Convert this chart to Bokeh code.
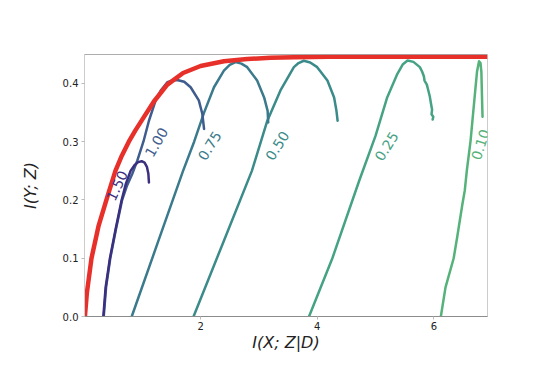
from bokeh.plotting import figure
from bokeh.models import Range1d, FixedTicker, PrintfTickFormatter, Span, ColumnDataSource, LabelSet
from bokeh.embed import file_html
from bokeh.resources import INLINE
from bokeh.core.properties import value

# ---- data ----
red_x = [0.017, 0.05, 0.13, 0.25, 0.40, 0.54, 0.65, 0.77, 0.88, 1.00, 1.20, 1.43, 1.70, 2.00, 2.40, 2.80, 3.20, 3.60, 4.20, 5.00, 6.00, 6.92]
red_y = [0.0, 0.04, 0.10, 0.155, 0.205, 0.25, 0.276, 0.30, 0.319, 0.338, 0.369, 0.398, 0.418, 0.430, 0.438, 0.442, 0.444, 0.445, 0.446, 0.446, 0.446, 0.446]

b150_x = [0.333, 0.372, 0.446, 0.544, 0.647, 0.72, 0.80, 0.87, 0.93, 0.99, 1.04, 1.08, 1.105, 1.115]
b150_y = [0.0, 0.05, 0.10, 0.15, 0.20, 0.228, 0.25, 0.260, 0.265, 0.2665, 0.264, 0.257, 0.245, 0.230]

b100_x = [0.34, 0.38, 0.452, 0.55, 0.655, 0.74, 0.83, 0.915, 1.02, 1.115, 1.23, 1.317, 1.43, 1.52, 1.60, 1.72, 1.83, 1.97, 2.03, 2.06]
b100_y = [0.0, 0.05, 0.10, 0.15, 0.20, 0.225, 0.245, 0.2675, 0.300, 0.336, 0.371, 0.388, 0.402, 0.405, 0.406, 0.403, 0.3935, 0.371, 0.348, 0.322]

b075_x = [0.82, 1.26, 1.70, 1.89, 2.06, 2.23, 2.40, 2.50, 2.60, 2.70, 2.80, 2.97, 3.09, 3.15, 3.16]
b075_y = [0.0, 0.125, 0.25, 0.30, 0.35, 0.3935, 0.422, 0.432, 0.4366, 0.434, 0.428, 0.405, 0.376, 0.353, 0.333]

b050_x = [1.88, 2.38, 2.88, 3.145, 3.37, 3.60, 3.68, 3.77, 3.88, 4.00, 4.175, 4.29, 4.33, 4.35]
b050_y = [0.0, 0.125, 0.25, 0.336, 0.388, 0.428, 0.435, 0.439, 0.436, 0.428, 0.405, 0.376, 0.353, 0.336]

b025_x = [3.86, 4.26, 4.72, 5.00, 5.20, 5.375, 5.47, 5.55, 5.65, 5.76, 5.80, 5.83, 5.84, 5.88, 5.90, 5.93, 5.95, 5.97, 5.96, 5.99, 5.98]
b025_y = [0.0, 0.10, 0.233, 0.31, 0.376, 0.4165, 0.433, 0.4395, 0.437, 0.428, 0.420, 0.412, 0.405, 0.398, 0.390, 0.378, 0.366, 0.355, 0.347, 0.343, 0.338]

b010_x = [6.12, 6.20, 6.34, 6.40, 6.49, 6.53, 6.565, 6.63, 6.67, 6.71, 6.74, 6.775, 6.80, 6.815, 6.82, 6.825, 6.83, 6.835]
b010_y = [0.0, 0.05, 0.10, 0.136, 0.193, 0.216, 0.25, 0.302, 0.345, 0.388, 0.42, 0.438, 0.435, 0.42, 0.40, 0.38, 0.36, 0.343]

labels = ["1.50", "1.00", "0.75", "0.50", "0.25", "0.10"]
label_x = [0.57, 1.245, 2.157, 3.317, 5.19, 6.80]
label_y = [0.2246, 0.299, 0.293, 0.293, 0.292, 0.295]
label_angle = [65, 60, 58, 58, 58, 72]
colors = ["#3b2f80", "#3e5c8d", "#3b7a8c", "#3a8b89", "#46a284", "#55b27a"]

x_ticks = [2, 4, 6]
y_ticks = [0.0, 0.1, 0.2, 0.3, 0.4]

X_MIN, X_MAX = 0.01, 6.92
Y_MIN, Y_MAX = 0.0, 0.4497

p = figure(width=542, height=370, output_backend="svg", toolbar_location=None,
           x_range=Range1d(X_MIN, X_MAX), y_range=Range1d(Y_MIN, Y_MAX),
           min_border_left=84, min_border_right=55, min_border_top=54, min_border_bottom=54)
p.background_fill_color = "white"
p.border_fill_color = "white"
p.grid.visible = False
p.outline_line_color = "#cccccc"
p.outline_line_width = 1

series = [(b010_x, b010_y, colors[5]), (b025_x, b025_y, colors[4]), (b050_x, b050_y, colors[3]),
          (b075_x, b075_y, colors[2]), (b100_x, b100_y, colors[1]), (b150_x, b150_y, colors[0])]
for xs, ys, c in series:
    p.line(xs, ys, line_color=c, line_width=2.5, line_join="round", line_cap="round")

p.line(red_x, red_y, line_color="#e8302a", line_width=4.5, line_join="round")

src = ColumnDataSource(dict(x=label_x, y=label_y, t=labels, a=label_angle, c=colors))
p.add_layout(LabelSet(x="x", y="y", text="t", angle="a", angle_units="deg", text_color="c",
                      source=src, text_font=value("DejaVu Sans"), text_font_size=value("14px"),
                      text_align="center", text_baseline="middle"))

p.add_layout(Span(location=Y_MAX, dimension="width", line_color="#8c8c8c", line_width=1))

for ax in (p.xaxis[0], p.yaxis[0]):
    ax.major_tick_out = 3
    ax.major_tick_in = 0
    ax.minor_tick_out = 0
    ax.minor_tick_in = 0
    ax.major_tick_line_color = "#bbbbbb"
    ax.major_label_text_font = "DejaVu Sans"
    ax.major_label_text_font_size = "10px"
    ax.major_label_text_color = "#222222"
    ax.axis_label_text_font = "DejaVu Sans"
    ax.axis_label_text_font_size = "16px"
    ax.axis_label_text_font_style = "italic"
    ax.axis_label_text_color = "#222222"

p.xaxis.ticker = FixedTicker(ticks=x_ticks)
p.xaxis.formatter = PrintfTickFormatter(format="%d")
p.xaxis.axis_line_color = "#8c8c8c"
p.xaxis.major_label_standoff = 2
p.xaxis.axis_label = "I(X; Z|D)"
p.xaxis.axis_label_standoff = 0

p.yaxis.ticker = FixedTicker(ticks=y_ticks)
p.yaxis.formatter = PrintfTickFormatter(format="%.1f")
p.yaxis.axis_line_color = "#cccccc"
p.yaxis.major_label_standoff = 3
p.yaxis.axis_label = "I(Y; Z)"
p.yaxis.axis_label_standoff = 20

open("out.html", "w").write(file_html(p, INLINE))
